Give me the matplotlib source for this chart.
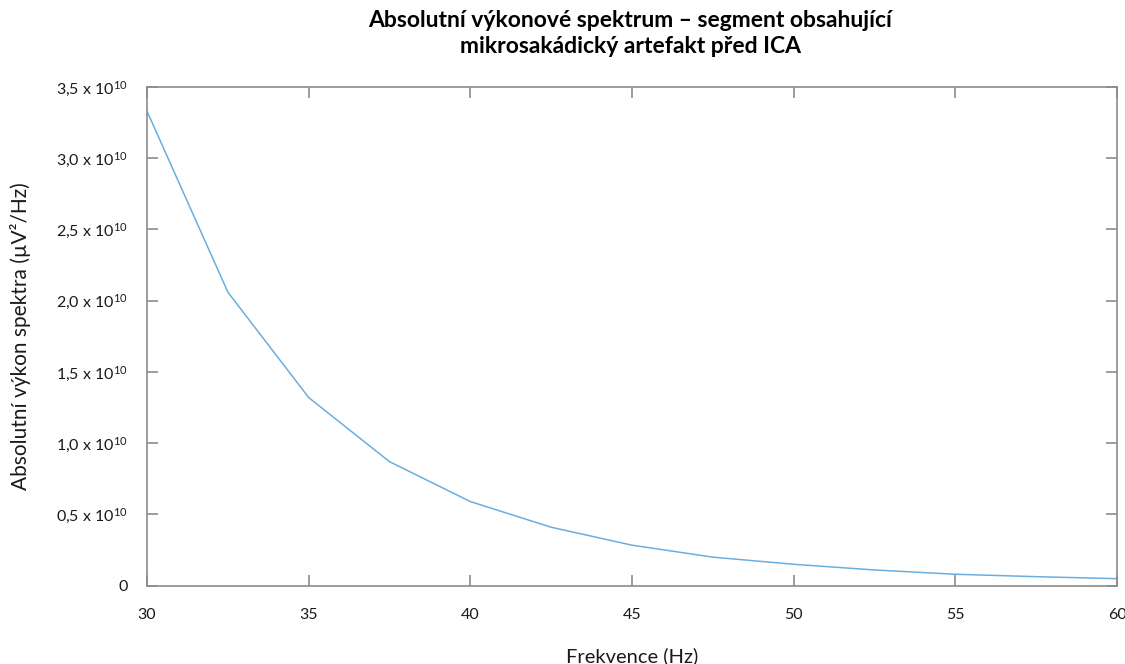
import numpy as np
import matplotlib.pyplot as plt
from matplotlib.ticker import FixedLocator, FixedFormatter

plt.rcParams["font.family"] = ["Lato", "DejaVu Sans"]
plt.rcParams["mathtext.fontset"] = "custom"
plt.rcParams["mathtext.rm"] = "Lato"
plt.rcParams["mathtext.it"] = "Lato:italic"

freq = [30, 32.5, 35, 37.5, 40, 42.5, 45, 47.5, 50, 52.5, 55, 57.5, 60]
power = [3.33, 2.06, 1.32, 0.87, 0.59, 0.41, 0.284, 0.20, 0.150, 0.110, 0.080, 0.063, 0.049]
power = np.array(power) * 1e10

yticks = [0, 0.5e10, 1.0e10, 1.5e10, 2.0e10, 2.5e10, 3.0e10, 3.5e10]
ylabels = ["0"] + [f"{v}".replace(".", ",") + r" x 10$^{10}$"
                   for v in ["0.5", "1.0", "1.5", "2.0", "2.5", "3.0", "3.5"]]
xticks = [30, 35, 40, 45, 50, 55, 60]

fig = plt.figure(figsize=(11.25, 6.64), dpi=100)
ax = fig.add_axes([0.1307, 0.118, 0.8622, 0.751])

ax.plot(freq, power, color="#6aaee0", lw=1.1)

ax.set_xlim(30, 60)
ax.set_ylim(0, 3.5e10)
ax.yaxis.set_major_locator(FixedLocator(yticks))
ax.yaxis.set_major_formatter(FixedFormatter(ylabels))
ax.set_xticks(xticks)

for s in ax.spines.values():
    s.set_color("#8c8c8c")
    s.set_linewidth(1.2)
ax.tick_params(direction="in", length=8, width=1.2, color="#8c8c8c",
               labelsize=11.5, labelcolor="#1a1a1a", top=True, right=True)
ax.tick_params(axis="x", pad=16)
ax.tick_params(axis="y", pad=14)

ax.set_xlabel("Frekvence (Hz)", fontsize=14.5, color="#1a1a1a", labelpad=18)
ax.set_ylabel("Absolutní výkon spektra (µV²/Hz)", fontsize=15, color="#1a1a1a", labelpad=18)
fig.text(0.56, 0.985, "Absolutní výkonové spektrum – segment obsahující\nmikrosakádický artefakt před ICA",
         ha="center", va="top", fontsize=16.5, fontweight="bold", linespacing=1.3)

fig.savefig("out.png", dpi=100)
